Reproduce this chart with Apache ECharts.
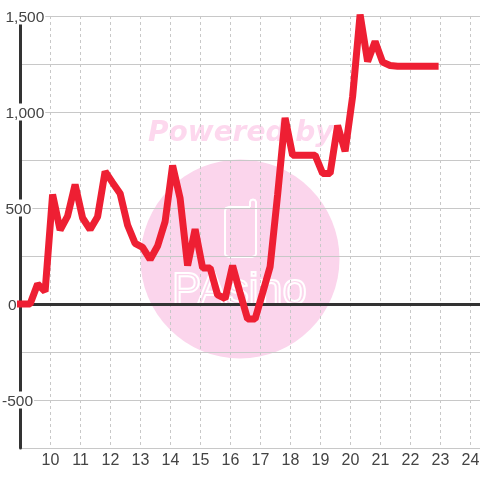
<!DOCTYPE html>
<html>
<head>
<meta charset="utf-8">
<style>html,body{margin:0;padding:0;background:#fff}#c{width:480px;height:480px}</style>
<script src="https://cdn.jsdelivr.net/npm/echarts@6/dist/echarts.min.js"></script>
</head>
<body>
<div id="c"></div>
<script>
var hours = [8.98,9.32,9.57,9.82,10.07,10.32,10.57,10.82,11.07,11.32,11.57,11.82,12.07,12.32,12.57,12.82,13.07,13.32,13.57,13.82,14.07,14.32,14.57,14.82,15.07,15.32,15.57,15.82,16.07,16.32,16.57,16.82,17.07,17.32,17.57,17.82,18.07,18.32,18.57,18.82,19.07,19.32,19.57,19.82,20.07,20.32,20.57,20.82,21.07,21.32,21.57,21.82,22.07,22.32,22.57,22.82];
var profit = [0,0,104,65,570,385,458,622,448,388,455,690,632,576,411,316,295,232,302,429,721,550,200,390,188,188,47,28,200,57,-78,-78,57,194,568,969,775,775,775,775,680,680,930,795,1080,1508,1263,1367,1260,1242,1238,1238,1238,1238,1238,1238];
var yTicks = [-500,0,500,1000,1500];

var points = hours.map(function(h,i){return [h,profit[i]];});
var chart = echarts.init(document.getElementById('c'),null,{renderer:'canvas'});
chart.setOption({
  animation:false,
  backgroundColor:'#fff',
  grid:{left:20.5,width:460,top:16,height:432,containLabel:false,outerBoundsMode:'none'},
  xAxis:{
    type:'value',min:9,max:24.3333,interval:1,
    axisLine:{show:false},axisTick:{show:false},
    axisLabel:{color:'#444',fontFamily:'Liberation Sans',fontSize:16,margin:5,showMinLabel:false,showMaxLabel:false,verticalAlign:'top'},
    splitLine:{show:true,showMinLine:false,showMaxLine:false,lineStyle:{color:'#c8c8c8',width:1,type:[3,3]}}
  },
  yAxis:{
    type:'value',min:-750,max:1500,interval:250,
    axisLine:{show:true,onZero:false,lineStyle:{color:'#333',width:3}},
    axisTick:{show:false},
    axisLabel:{color:'#444',fontFamily:'Liberation Sans',fontSize:15.5,margin:18.5,align:'left',
      backgroundColor:'#fff',padding:[4,1,0,0],
      rich:{
        n:{lineHeight:13,padding:[0,0,0,0]},
        z:{lineHeight:13,padding:[0,0,0,6]},
        p:{lineHeight:13,padding:[0,0,0,3.5]}
      },
      formatter:function(v){
        if(yTicks.indexOf(v)<0)return '';
        if(v<0)return '{n|'+v+'}';
        if(v===0)return '{z|0}';
        return '{p|'+String(v).replace(/(\d)(\d{3})$/,'$1,$2')+'}';
      }},
    splitLine:{show:true,lineStyle:{color:'#c8c8c8',width:1}}
  },
  graphic:{elements:[
    {type:'circle',z:-10,silent:true,shape:{cx:240,cy:259,r:99.5},style:{fill:'#fbd5ec'}},
    {type:'text',z:-9,silent:true,x:148,y:120,style:{text:'Powered by',fill:'#fdd8ee',font:'italic bold 28px "DejaVu Sans"'}},
    {type:'polyline',z:-9,silent:true,shape:{points:[[250,207],[229,207],[226,208],[225,211],[225,254],[226,256],[229,257],[252,257],[255,256],[256,254],[256,202],[255,200],[253,199.5],[251,200],[250,202],[250,207]]},style:{fill:'none',stroke:'#fff',lineWidth:2}},
    {type:'text',z:-9,silent:true,x:172,y:270,scaleX:0.99,style:{text:'PAsino',fill:'none',stroke:'#fff',lineWidth:2,font:'44px "Liberation Sans"'}}
  ]},
  series:[
    {type:'line',z:1,silent:true,data:[],showSymbol:false,
      markLine:{silent:true,symbol:'none',animation:false,label:{show:false},lineStyle:{color:'#333',width:3,type:'solid'},data:[{yAxis:0}]}},
    {type:'line',z:5,silent:true,data:points,showSymbol:false,clip:false,smooth:false,
      lineStyle:{color:'#ee1f33',width:7,cap:'square',join:'bevel'}}
  ]
});
</script>
</body>
</html>
